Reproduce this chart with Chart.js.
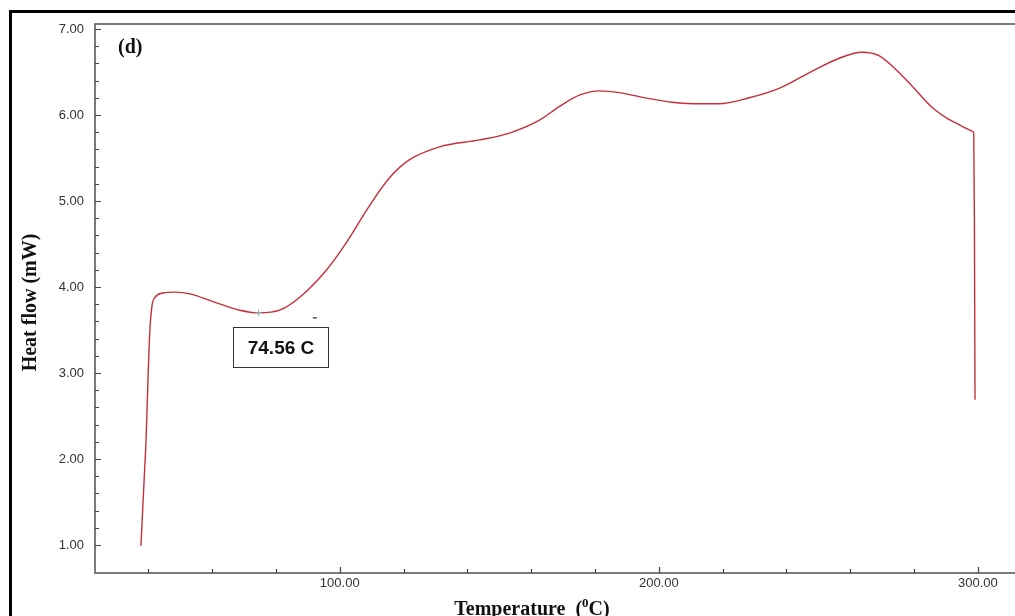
<!DOCTYPE html>
<html>
<head>
<meta charset="utf-8">
<title>Heat flow (mW)</title>
<script src="https://cdn.jsdelivr.net/npm/chart.js@4/dist/chart.umd.min.js"></script>
<style>
  html, body { margin: 0; padding: 0; background: #fff; overflow: hidden; }
  canvas { display: block; }
</style>
</head>
<body>
<canvas id="dsc" width="1015" height="616"></canvas>
<script>
// DSC trace: temperature (°C) and heat flow (mW)
const temperature = [37.7, 38.7, 39.3, 39.9, 40.5, 41.2, 42.1, 44.6, 48.4, 53.1, 60.3, 68.7, 74.56, 81.2, 88.4, 95.9,
  101.6, 109.4, 115.6, 121.9, 131.3, 143.8, 153.2, 162.6, 168.9, 175.1, 181.4, 187.6, 197.0, 206.4, 218.9,
  228.3, 237.7, 247.1, 256.5, 263.7, 269.0, 277.5, 285.6, 290.0, 294.5, 298.7, 298.9, 299.1];
const heatFlow = [0.99, 1.76, 2.22, 2.92, 3.50, 3.79, 3.88, 3.93, 3.94, 3.92, 3.83, 3.73, 3.70, 3.73, 3.91, 4.20,
  4.49, 4.95, 5.27, 5.48, 5.63, 5.71, 5.79, 5.94, 6.10, 6.23, 6.28, 6.26, 6.19, 6.14, 6.13,
  6.20, 6.31, 6.49, 6.66, 6.73, 6.69, 6.41, 6.09, 5.97, 5.88, 5.80, 4.81, 2.69];
// the last three readings form the sharp end-of-run drop
const dropCount = 3;

// Marked transition
const markTemp = 74.56;
const markFlow = 3.70;
// small stray tick to the right of the marker
const strayTemp = 92.2;
const strayFlow = 3.64;

// Axis ticks
const xTickValues = [40, 60, 80, 100, 120, 140, 160, 180, 200, 220, 240, 260, 280, 300];
const xLabelValues = [100, 200, 300];
const yTickValues = [1.0, 1.2, 1.4, 1.6, 1.8, 2.0, 2.2, 2.4, 2.6, 2.8, 3.0, 3.2, 3.4, 3.6, 3.8, 4.0,
  4.2, 4.4, 4.6, 4.8, 5.0, 5.2, 5.4, 5.6, 5.8, 6.0, 6.2, 6.4, 6.6, 6.8, 7.0];
const yLabelValues = [1, 2, 3, 4, 5, 6, 7];

const AXIS_COLOR = '#7a7a7a';
const LABEL_COLOR = '#333333';
const CURVE_COLOR = '#c62f3a';

const points = temperature.map((t, i) => ({ x: t, y: heatFlow[i] }));
const smoothPart = points.slice(0, points.length - dropCount + 1);
const dropPart = points.slice(points.length - dropCount);

// Frame, axis lines, inward tick marks, titles and the annotation box
const decorations = {
  id: 'decorations',
  afterDraw(chart) {
    const { ctx, chartArea: a, scales: { x, y } } = chart;
    ctx.save();

    // outer black frame
    ctx.strokeStyle = '#000';
    ctx.lineWidth = 3;
    ctx.strokeRect(10.5, 11.5, 1100, 700);

    // plot frame: top, left, bottom
    ctx.strokeStyle = AXIS_COLOR;
    ctx.lineWidth = 2;
    ctx.beginPath();
    ctx.moveTo(a.right + 10, a.top);
    ctx.lineTo(a.left, a.top);
    ctx.lineTo(a.left, a.bottom);
    ctx.lineTo(a.right + 10, a.bottom);
    ctx.stroke();

    // tick marks pointing into the plot
    ctx.lineWidth = 1.2;
    ctx.strokeStyle = '#444';
    ctx.beginPath();
    yTickValues.forEach(v => {
      const py = Math.round(y.getPixelForValue(v)) + 0.5;
      const len = yLabelValues.some(m => Math.abs(m - v) < 1e-6) ? 6 : 4;
      ctx.moveTo(a.left, py);
      ctx.lineTo(a.left + len, py);
    });
    xTickValues.forEach(v => {
      const px = Math.round(x.getPixelForValue(v)) + 0.5;
      const len = xLabelValues.includes(v) ? 6 : 4;
      ctx.moveTo(px, a.bottom);
      ctx.lineTo(px, a.bottom - len);
    });
    ctx.stroke();

    // panel letter
    ctx.fillStyle = '#111';
    ctx.font = 'bold 20px "Liberation Serif", "DejaVu Serif", serif';
    ctx.textAlign = 'left';
    ctx.textBaseline = 'middle';
    ctx.fillText('(d)', a.left + 23, a.top + 24);

    // y axis title
    ctx.save();
    ctx.translate(31, (a.top + a.bottom) / 2 + 4);
    ctx.rotate(-Math.PI / 2);
    ctx.textAlign = 'center';
    ctx.textBaseline = 'middle';
    ctx.fillText('Heat flow (mW)', 0, 0);
    ctx.restore();

    // x axis title with superscript zero
    const base = 'Temperature  (';
    const sup = '0';
    const tail = 'C)';
    const mainFont = 'bold 20px "Liberation Serif", "DejaVu Serif", serif';
    const supFont = 'bold 13px "Liberation Serif", "DejaVu Serif", serif';
    ctx.textBaseline = 'alphabetic';
    ctx.font = mainFont;
    const w1 = ctx.measureText(base).width;
    const w3 = ctx.measureText(tail).width;
    ctx.font = supFont;
    const w2 = ctx.measureText(sup).width;
    let tx = 532 - (w1 + w2 + w3) / 2;
    const ty = a.bottom + 42;
    ctx.font = mainFont;
    ctx.fillText(base, tx, ty);
    tx += w1;
    ctx.font = supFont;
    ctx.fillText(sup, tx, ty - 8);
    tx += w2;
    ctx.font = mainFont;
    ctx.fillText(tail, tx, ty);

    // annotation box under the marked point
    const mx = x.getPixelForValue(markTemp);
    const my = y.getPixelForValue(markFlow);
    const bx = Math.round(mx - 26) + 0.5;
    const by = Math.round(my + 14) + 0.5;
    ctx.fillStyle = '#fff';
    ctx.fillRect(bx, by, 95, 40);
    ctx.strokeStyle = '#333';
    ctx.lineWidth = 1;
    ctx.strokeRect(bx, by, 95, 40);
    ctx.fillStyle = '#111';
    ctx.font = 'bold 19px "Liberation Sans", Arial, sans-serif';
    ctx.textAlign = 'center';
    ctx.textBaseline = 'middle';
    ctx.fillText(markTemp.toFixed(2) + ' C', bx + 47.5, by + 21);

    ctx.restore();
  }
};

new Chart(document.getElementById('dsc'), {
  type: 'scatter',
  data: {
    datasets: [
      {
        label: 'Heat flow',
        data: smoothPart,
        showLine: true,
        borderColor: CURVE_COLOR,
        borderWidth: 1.4,
        pointRadius: 0,
        cubicInterpolationMode: 'monotone',
        order: 3
      },
      {
        label: 'End of run',
        data: dropPart,
        showLine: true,
        borderColor: CURVE_COLOR,
        borderWidth: 1.4,
        pointRadius: 0,
        tension: 0,
        order: 3
      },
      {
        label: 'Marker',
        data: [{ x: markTemp, y: markFlow }],
        showLine: false,
        pointStyle: 'cross',
        pointRadius: 3.5,
        borderColor: '#7fbccc',
        borderWidth: 1,
        order: 1
      },
      {
        label: 'Stray tick',
        data: [{ x: strayTemp, y: strayFlow }],
        showLine: false,
        pointStyle: 'line',
        pointRadius: 2,
        borderColor: '#333',
        borderWidth: 1.2,
        order: 2
      }
    ]
  },
  options: {
    responsive: false,
    animation: false,
    events: [],
    layout: { padding: { top: 24, left: 0, right: 0, bottom: 0 } },
    plugins: { legend: { display: false }, tooltip: { enabled: false } },
    scales: {
      x: {
        type: 'linear',
        min: 23.3,
        max: 310.0,
        grid: { display: false, drawTicks: false },
        border: { display: false },
        afterBuildTicks: s => { s.ticks = xLabelValues.map(v => ({ value: v })); },
        afterFit: s => { s.height = 43; },
        ticks: {
          padding: 3,
          maxRotation: 0,
          color: LABEL_COLOR,
          font: { family: '"Liberation Sans", Arial, sans-serif', size: 13 },
          callback: v => Number(v).toFixed(2)
        }
      },
      y: {
        type: 'linear',
        min: 0.674,
        max: 7.058,
        grid: { display: false, drawTicks: false },
        border: { display: false },
        afterBuildTicks: s => { s.ticks = yLabelValues.map(v => ({ value: v })); },
        afterFit: s => { s.width = 95; },
        ticks: {
          padding: 11,
          color: LABEL_COLOR,
          font: { family: '"Liberation Sans", Arial, sans-serif', size: 13 },
          callback: v => Number(v).toFixed(2)
        }
      }
    }
  },
  plugins: [decorations]
});
</script>
</body>
</html>
